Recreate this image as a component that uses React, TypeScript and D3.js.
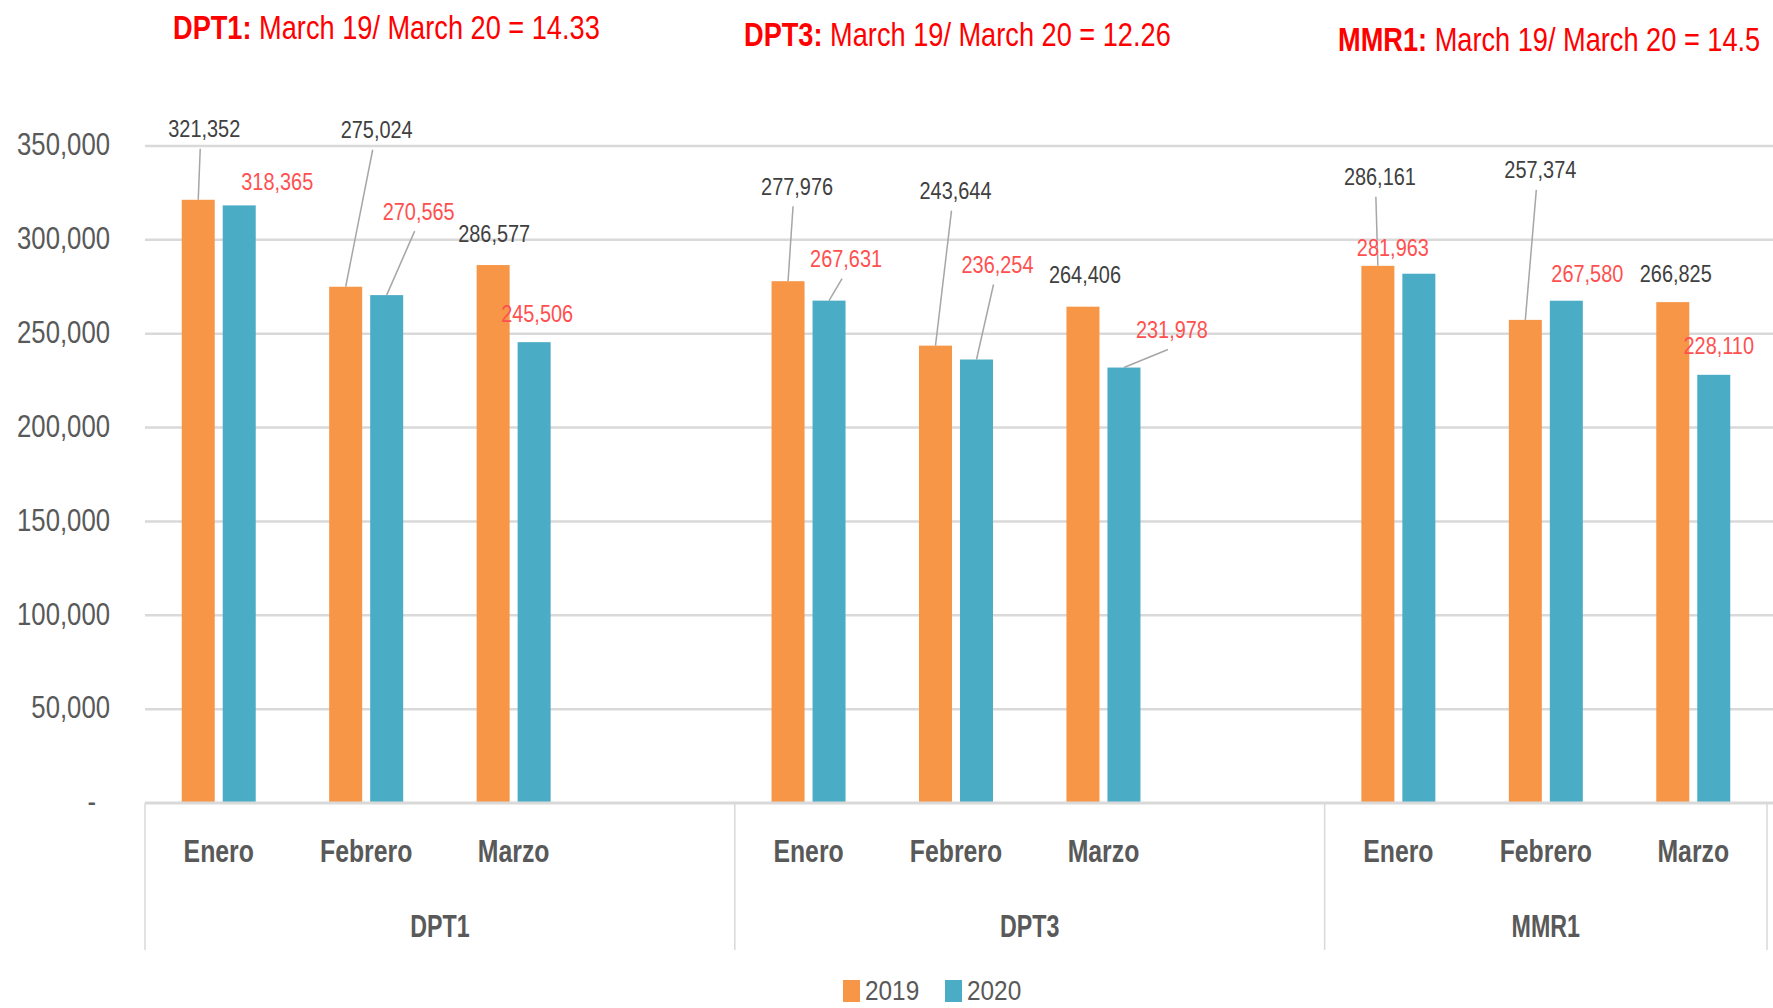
import React from "react";
import * as d3 from "d3";

const groups = ["DPT1", "DPT3", "MMR1"];
const months = ["Enero", "Febrero", "Marzo"];
const seriesNames = ["2019", "2020"];
const values2019 = [
  [321352, 275024, 286577],
  [277976, 243644, 264406],
  [286161, 257374, 266825],
];
const values2020 = [
  [318365, 270565, 245506],
  [267631, 236254, 231978],
  [281963, 267580, 228110],
];
const titles = [
  { bold: "DPT1:", rest: " March 19/ March 20 = 14.33" },
  { bold: "DPT3:", rest: " March 19/ March 20 = 12.26" },
  { bold: "MMR1:", rest: " March 19/ March 20 = 14.5" },
];
const yTicks = [0, 50000, 100000, 150000, 200000, 250000, 300000, 350000];

// label layout: [dx, dy, leader] relative to bar top centre (px)
const labelLayout2019 = [
  [[6, -71, 1], [31, -157, 1], [1, -31, 0]],
  [[9, -95, 1], [20, -155, 1], [2, -32, 0]],
  [[2, -89, 1], [15, -150, 1], [3, -29, 0]],
];
const labelLayout2020 = [
  [[38, -24, 0], [32, -84, 1], [3, -29, 0]],
  [[17, -42, 1], [21, -95, 1], [48, -38, 1]],
  [[-26, -26, 0], [21, -27, 0], [5, -29, 0]],
];
const titlePos = [
  [173, 39],
  [744, 46],
  [1338, 51],
];

const W = 1773;
const H = 1008;
const left = 145;
const right = 1767;
const top = 146;
const bottom = 803;
const colors = ["#F79646", "#4BACC6"];
const FONT = "'Liberation Sans', Arial, sans-serif";

function T(props: {
  x: number;
  y: number;
  sx: number;
  size: number;
  fill: string;
  anchor?: string;
  weight?: string;
  dy?: string;
  children: React.ReactNode;
}) {
  return (
    <text
      transform={`translate(${props.x},${props.y}) scale(${props.sx},1)`}
      textAnchor={props.anchor || "start"}
      fontSize={props.size}
      fontWeight={props.weight || "normal"}
      fill={props.fill}
      dy={props.dy}
    >
      {props.children}
    </text>
  );
}

export default function App() {
  const slots: { key: string; g: number; m: number }[] = [];
  groups.forEach((g, gi) => {
    months.forEach((m, mi) => slots.push({ key: `${g}-${m}`, g: gi, m: mi }));
    if (gi < groups.length - 1) slots.push({ key: `${g}-pad`, g: gi, m: -1 });
  });
  const x = d3.scaleBand<string>().domain(slots.map((s) => s.key)).range([left, right]);
  const xs = d3
    .scaleBand<string>()
    .domain(seriesNames)
    .range([0, x.step()])
    .paddingInner(0.195)
    .paddingOuter(0.896);
  const y = d3.scaleLinear().domain([0, 350000]).range([bottom, top]);
  const fmt = d3.format(",");
  const seriesVals = [values2019, values2020];
  const layouts = [labelLayout2019, labelLayout2020];

  const bars: React.ReactNode[] = [];
  const labels: React.ReactNode[] = [];
  slots.forEach((s) => {
    if (s.m < 0) return;
    seriesNames.forEach((sn, si) => {
      const v = seriesVals[si][s.g][s.m];
      const bx = (x(s.key) as number) + (xs(sn) as number);
      const bw = xs.bandwidth();
      bars.push(
        <rect key={`b-${s.key}-${sn}`} x={bx} y={y(v)} width={bw} height={y(0) - y(v)} fill={colors[si]} />
      );
      const [dx, dy, leader] = layouts[si][s.g][s.m];
      const cx = bx + bw / 2;
      const lx = cx + dx;
      const ly = y(v) + dy;
      if (leader) {
        labels.push(
          <line
            key={`l-${s.key}-${sn}`}
            x1={lx - 4}
            y1={ly + 20}
            x2={cx}
            y2={y(v)}
            stroke="#A6A6A6"
            strokeWidth={1.5}
          />
        );
      }
      labels.push(
        <T
          key={`t-${s.key}-${sn}`}
          x={lx}
          y={ly}
          dy="0.35em"
          anchor="middle"
          size={24}
          sx={0.83}
          fill={si === 0 ? "#404040" : "#FF5050"}
        >
          {fmt(v)}
        </T>
      );
    });
  });

  const groupStarts = groups.map((g) => x(`${g}-${months[0]}`) as number);
  const groupEnds = groups.map((g, gi) =>
    gi < groups.length - 1
      ? (x(`${g}-pad`) as number) + x.step()
      : (x(`${g}-${months[months.length - 1]}`) as number) + x.step()
  );
  const sepXs = [...groupStarts, groupEnds[groupEnds.length - 1]];

  return (
    <svg
      width={W}
      height={H}
      style={{ position: "absolute", left: 0, top: 0, background: "#fff" }}
      fontFamily={FONT}
    >
      {yTicks.map((t) => (
        <g key={t}>
          {t > 0 && <line x1={left} x2={W} y1={y(t)} y2={y(t)} stroke="#D9D9D9" strokeWidth={2.5} />}
          <T x={t === 0 ? 96 : 110} y={y(t)} dy="0.3em" anchor="end" size={31} sx={0.83} fill="#595959">
            {t === 0 ? "-" : fmt(t)}
          </T>
        </g>
      ))}
      {bars}
      <line x1={left} x2={W} y1={bottom} y2={bottom} stroke="#D9D9D9" strokeWidth={3} />
      {sepXs.map((sx, i) => (
        <line key={i} x1={sx} x2={sx} y1={bottom} y2={950} stroke="#D9D9D9" strokeWidth={1.5} />
      ))}
      {slots
        .filter((s) => s.m >= 0)
        .map((s) => (
          <T
            key={`m-${s.key}`}
            x={(x(s.key) as number) + x.step() / 2}
            y={851}
            dy="0.35em"
            anchor="middle"
            size={31}
            sx={0.8}
            weight="bold"
            fill="#595959"
          >
            {months[s.m]}
          </T>
        ))}
      {groups.map((g, gi) => (
        <T
          key={`g-${g}`}
          x={(groupStarts[gi] + groupEnds[gi]) / 2}
          y={926}
          dy="0.35em"
          anchor="middle"
          size={31}
          sx={0.75}
          weight="bold"
          fill="#595959"
        >
          {g}
        </T>
      ))}
      {labels}
      {titles.map((t, i) => (
        <T key={`ti-${i}`} x={titlePos[i][0]} y={titlePos[i][1]} size={34} sx={0.8} fill="#FF0000">
          <tspan fontWeight="bold">{t.bold}</tspan>
          <tspan>{t.rest}</tspan>
        </T>
      ))}
      {seriesNames.map((sn, i) => (
        <g key={`lg-${sn}`} transform={`translate(${843 + i * 102},0)`}>
          <rect x={0} y={980} width={17} height={22} fill={colors[i]} />
          <T x={22} y={990} dy="0.35em" size={28} sx={0.87} fill="#595959">
            {sn}
          </T>
        </g>
      ))}
    </svg>
  );
}
